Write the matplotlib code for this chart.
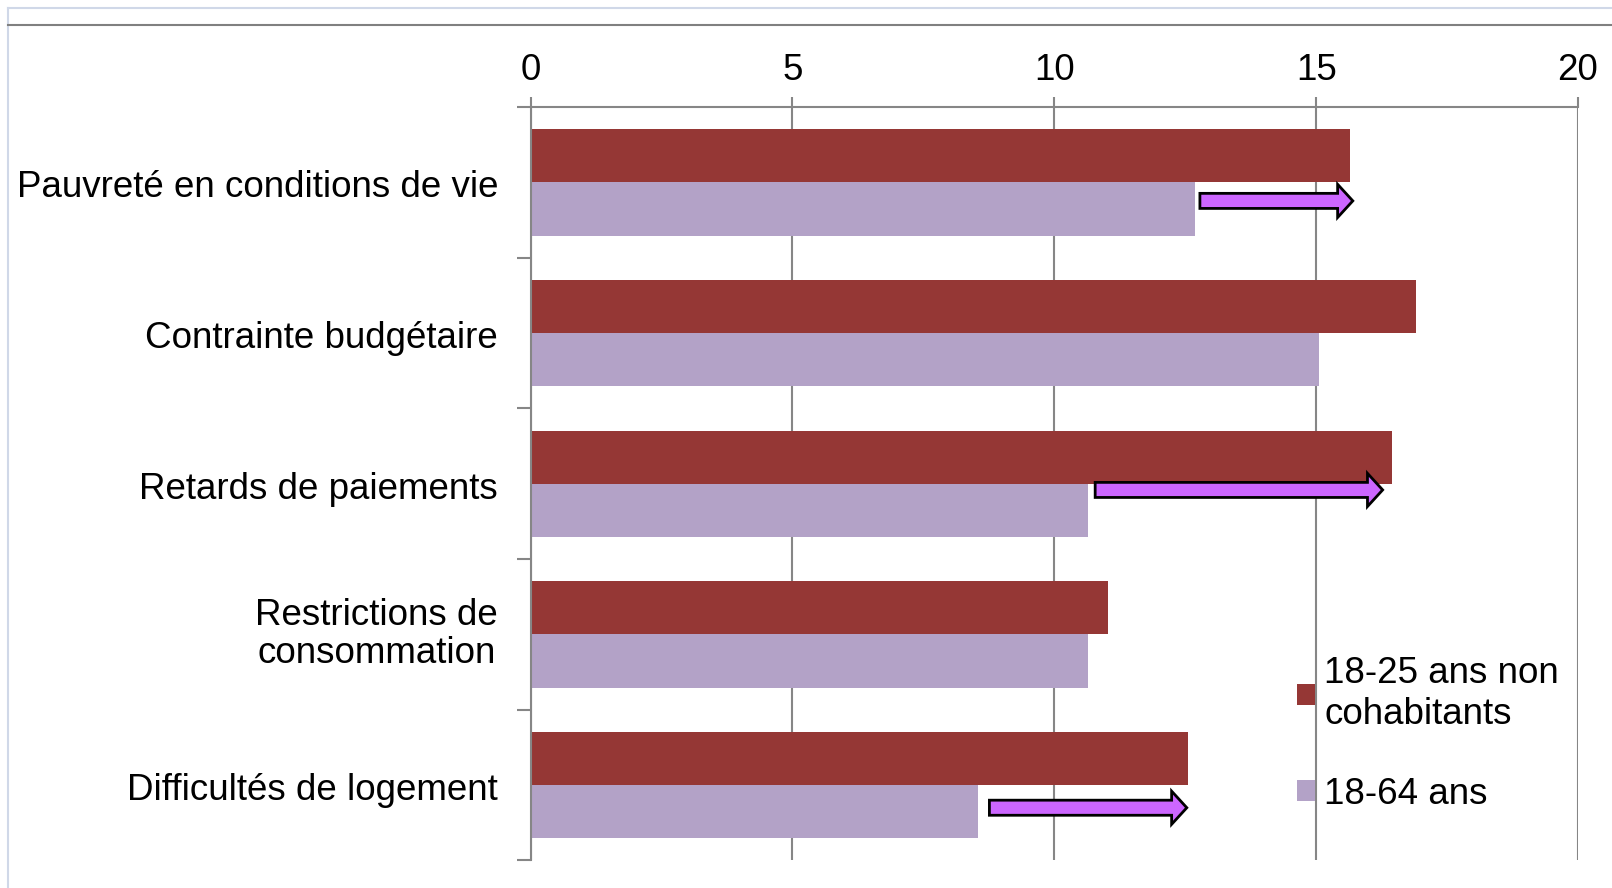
import matplotlib.pyplot as plt
from matplotlib.patches import FancyArrow
from matplotlib.lines import Line2D
import numpy as np

plt.rcParams['font.family'] = ['Liberation Sans', 'DejaVu Sans']

# Données
categories = ["Pauvreté en conditions de vie", "Contrainte budgétaire", "Retards de paiements",
              "Restrictions de\nconsommation", "Difficultés de logement"]
jeunes = [15.65, 16.9, 16.45, 11.02, 12.55]      # 18-25 ans non cohabitants
ensemble = [12.69, 15.06, 10.65, 10.65, 8.55]    # 18-64 ans
series_labels = ["18-25 ans non\ncohabitants", "18-64 ans"]
xticks = [0, 5, 10, 15, 20]

# Flèches (écart)
arrow_cat = [0, 2, 4]
arrow_start = [12.78, 10.78, 8.76]
arrow_end = [15.7, 16.27, 12.53]
arrow_dy = [0.123, 0.041, 0.15]

red = "#953735"
lav = "#B3A2C7"
grid_col = "#868686"
fs = 26.5

fig = plt.figure(figsize=(16.12, 8.88), dpi=100)
ax = fig.add_axes([0.3292, 0.031, 0.6497, 0.8485])

y = np.arange(len(categories))
h = 0.353
ax.barh(y - h / 2, jeunes, height=h, color=red, label=series_labels[0], zorder=2)
ax.barh(y + h / 2, ensemble, height=h, color=lav, label=series_labels[1], zorder=2)

for c, x0, x1, dy in zip(arrow_cat, arrow_start, arrow_end, arrow_dy):
    ax.add_patch(FancyArrow(x0, c + dy, x1 - x0, 0, width=0.1, head_width=0.22,
                            head_length=0.29, length_includes_head=True,
                            fc="#CC66FF", ec="black", lw=2, zorder=4))

ax.set_xlim(0, 20)
ax.set_ylim(len(categories) - 0.5, -0.5)
ax.xaxis.tick_top()
ax.set_xticks(xticks)
ax.set_xticklabels([str(t) for t in xticks])
ax.tick_params(axis='x', direction='out', length=7, width=1.5, color=grid_col,
               labelsize=fs, pad=7)
ax.grid(axis='x', color=grid_col, lw=1.5, zorder=1)

ax.set_yticks(np.arange(len(categories) + 1) - 0.5, minor=False)
ax.set_yticklabels([])
ax.tick_params(axis='y', direction='out', length=10, width=1.5, color=grid_col)
for i, lab in enumerate(categories):
    off = 0.0 if "\n" in lab else 0.035
    ax.text(-0.62, i + off, lab, ha='right', va='center', multialignment='center',
            fontsize=fs, linespacing=1.1)

for s in ['right', 'bottom']:
    ax.spines[s].set_visible(False)
for s in ['left', 'top']:
    ax.spines[s].set_color(grid_col)
    ax.spines[s].set_linewidth(1.5)

ax.legend(loc='upper left', bbox_to_anchor=(0.7315, 0.271), frameon=False,
          fontsize=fs, handlelength=0.5, handleheight=0.5, handletextpad=0.25,
          labelspacing=1.22, borderpad=0, borderaxespad=0)

# cadre
fig.add_artist(Line2D([8 / 1612, 1], [1 - 8 / 888, 1 - 8 / 888], color="#D0D8E8", lw=1.5))
fig.add_artist(Line2D([8 / 1612, 8 / 1612], [0, 1 - 8 / 888], color="#D0D8E8", lw=1.5))
fig.add_artist(Line2D([8 / 1612, 1], [1 - 25 / 888, 1 - 25 / 888], color="#808080", lw=1.5))

plt.savefig("out.png", dpi=100)
